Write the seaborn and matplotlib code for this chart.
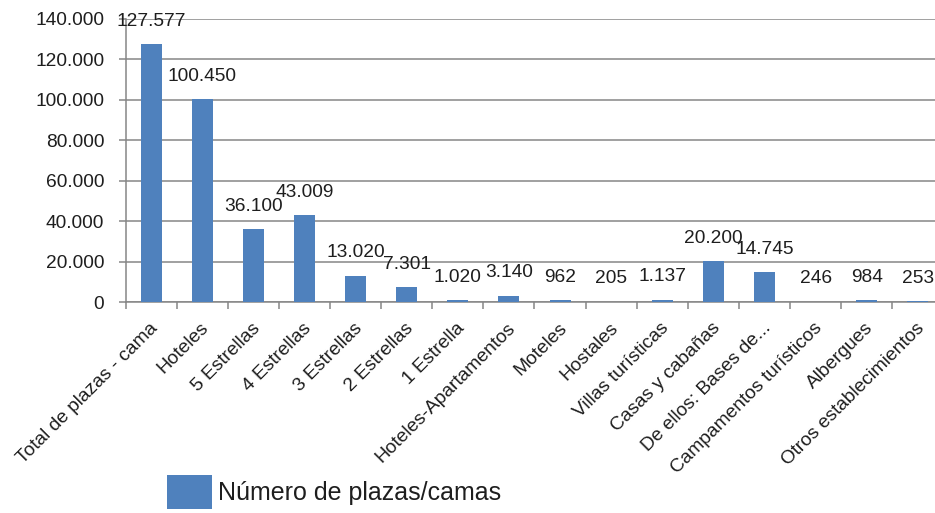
import numpy as np
import pandas as pd
import seaborn as sns
import matplotlib
matplotlib.use('Agg')
import matplotlib.pyplot as plt
import matplotlib.transforms as mtransforms
from matplotlib.ticker import FuncFormatter, FixedLocator
from matplotlib.patches import Patch

categories = ['Total de plazas - cama', 'Hoteles', '5 Estrellas', '4 Estrellas',
              '3 Estrellas', '2 Estrellas', '1 Estrella', 'Hoteles-Apartamentos',
              'Moteles', 'Hostales', 'Villas turísticas', 'Casas y cabañas',
              'De ellos: Bases de...', 'Campamentos turísticos', 'Albergues',
              'Otros establecimientos']
plazas = [127577, 100450, 36100, 43009, 13020, 7301, 1020, 3140,
          962, 205, 1137, 20200, 14745, 246, 984, 253]
series_name = 'Número de plazas/camas'


def miles(v, pos=None):
    return '{:,.0f}'.format(v).replace(',', '.')


def main():
    sns.set_style('white')
    plt.rcParams['font.family'] = ['Liberation Sans', 'DejaVu Sans']
    bar_color = '#4F81BD'
    grid_color = '#868686'
    text_color = '#1e1e1e'

    df = pd.DataFrame({'Categoria': categories, 'Plazas': plazas})

    fig = plt.figure(figsize=(9.35, 5.13), dpi=100)
    ax = fig.add_axes([0.1344, 0.4113, 0.8745, 0.5517])
    sns.barplot(ax=ax, data=df, x='Categoria', y='Plazas', color=bar_color,
                width=0.41, saturation=1, linewidth=0, edgecolor='none', zorder=3)

    ax.set_xlim(-0.5, len(categories) - 0.5)
    ax.set_ylim(0, 140000)
    ax.set_yticks(np.arange(0, 140001, 20000))
    ax.yaxis.set_major_formatter(FuncFormatter(miles))
    ax.yaxis.grid(True, color=grid_color, linewidth=1.1, zorder=0)
    ax.xaxis.grid(False)
    ax.set_axisbelow(True)
    ax.set_xlabel('')
    ax.set_ylabel('')

    for s in ['top', 'right']:
        ax.spines[s].set_visible(False)
    for s in ['left', 'bottom']:
        ax.spines[s].set_color(grid_color)
        ax.spines[s].set_linewidth(1.1)

    ax.tick_params(axis='y', which='major', direction='out', length=5, width=1.1,
                   color=grid_color, pad=10.5, labelsize=13.8, labelcolor=text_color, left=True)
    ax.xaxis.set_minor_locator(FixedLocator(np.arange(-0.5, len(categories), 1.0)))
    ax.tick_params(axis='x', which='minor', direction='out', length=5, width=1.1,
                   color=grid_color, bottom=True)
    ax.tick_params(axis='x', which='major', length=0, pad=17, labelsize=13.8,
                   labelcolor=text_color)

    ax.set_xticks(range(len(categories)))
    ax.set_xticklabels(categories, rotation=45, ha='right', va='center',
                       rotation_mode='anchor')
    shift = mtransforms.ScaledTranslation(4 / 100, 0, fig.dpi_scale_trans)
    for lab in ax.get_xticklabels():
        lab.set_transform(lab.get_transform() + shift)

    for i, v in enumerate(plazas):
        ax.annotate(miles(v), xy=(i, v), xytext=(0, 16.5), textcoords='offset points',
                    ha='center', va='center', fontsize=13.8, color=text_color,
                    annotation_clip=False, zorder=5)

    handle = Patch(facecolor=bar_color, edgecolor='none')
    fig.legend([handle], [series_name], loc='center left',
               bbox_to_anchor=(167 / 935, 1 - 492 / 513), frameon=False,
               fontsize=18, handlelength=1.8, handleheight=1.7, handletextpad=0.25,
               borderpad=0, borderaxespad=0, labelcolor=text_color)

    fig.savefig('out.png', dpi=100)


if __name__ == '__main__':
    main()
